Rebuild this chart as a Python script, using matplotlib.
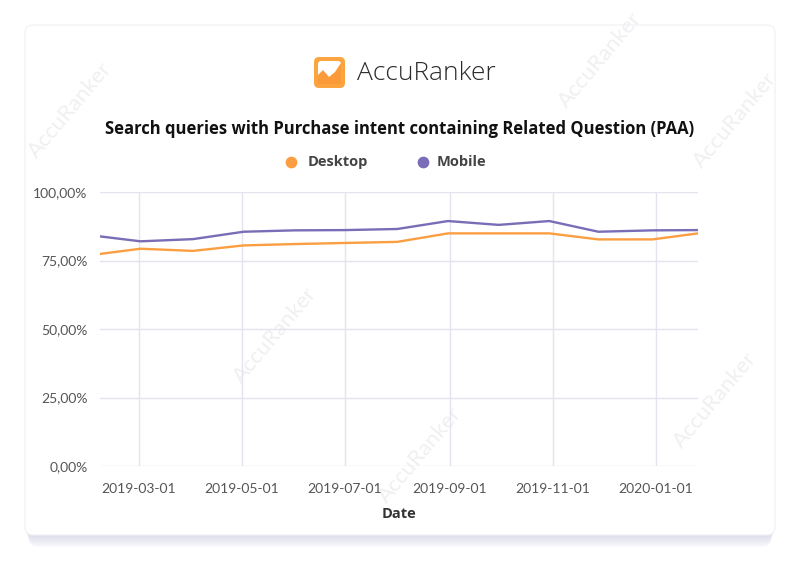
import numpy as np
import pandas as pd
import matplotlib
matplotlib.use('Agg')
import matplotlib.pyplot as plt
import matplotlib.dates as mdates
from matplotlib.patches import FancyBboxPatch, Polygon
from matplotlib.ticker import FuncFormatter

# data
dates = pd.to_datetime(['2019-02-06', '2019-03-02', '2019-04-02', '2019-05-02', '2019-06-01',
                        '2019-07-01', '2019-08-01', '2019-08-31', '2019-09-30', '2019-10-30',
                        '2019-11-28', '2019-12-30', '2020-01-26'])
desktop = [77.4, 79.3, 78.5, 80.5, 81.0, 81.4, 81.8, 84.9, 84.9, 84.9, 82.7, 82.7, 84.9]
mobile = [83.8, 82.0, 82.8, 85.5, 86.0, 86.1, 86.5, 89.4, 88.0, 89.4, 85.5, 86.0, 86.1]
tick_dates = pd.to_datetime(['2019-03-01', '2019-05-01', '2019-07-01', '2019-09-01',
                             '2019-11-01', '2020-01-01'])
y_ticks = [0, 25, 50, 75, 100]

orange = '#fb9e41'
purple = '#7a6cb6'
grid_c = '#e4e3ee'
text_c = '#555555'

plt.rcParams['font.family'] = ['Lato', 'DejaVu Sans']

fig = plt.figure(figsize=(8, 5.8), dpi=100)
fig.patch.set_facecolor('white')

# card with shadow
bg = fig.add_axes([0, 0, 1, 1], zorder=-10)
bg.set_xlim(0, 800)
bg.set_ylim(580, 0)
bg.axis('off')
for i in range(8):
    bg.add_patch(FancyBboxPatch((25 + i * 0.6, 30 + i * 1.7), 750 - i * 1.2, 505,
                                boxstyle='round,pad=0,rounding_size=8',
                                fc='#bfc2dc', ec='none', alpha=0.09))
bg.add_patch(FancyBboxPatch((25, 25), 750, 510, boxstyle='round,pad=0,rounding_size=8',
                            fc='white', ec='#f0f0f5', lw=0.8))

# faint watermarks inside the card
for wx, wy in [(70, 110), (275, 335), (420, 455), (735, 120), (715, 400), (600, 60)]:
    bg.text(wx, wy, 'AccuRanker', rotation=50, fontsize=16, color='#f0f0f3',
            ha='center', va='center', zorder=2)

# logo
bg.add_patch(FancyBboxPatch((314, 57), 31, 31, boxstyle='round,pad=0,rounding_size=5',
                            fc='#fca43f', ec='none', zorder=3))
bg.add_patch(FancyBboxPatch((318, 61), 23, 23, boxstyle='round,pad=0,rounding_size=3',
                            fc='white', ec='none', zorder=3))
bg.add_patch(Polygon([(318, 84), (318, 75), (323, 70), (329, 77), (335, 72), (341, 63),
                      (341, 84)], closed=True, fc='#fb9a3a', ec='none', zorder=3))
bg.text(357, 73, 'AccuRanker', fontsize=19, color='#2a2a2a', ha='left', va='center',
        family=['Open Sans', 'DejaVu Sans'], fontweight='light', zorder=3)

# title and legend
bg.text(400, 129, 'Search queries with Purchase intent containing Related Question (PAA)',
        fontsize=12, fontweight='bold', color='#111111', ha='center', va='center',
        family=['Open Sans', 'DejaVu Sans'], zorder=3)
bg.scatter([291], [162], s=55, color=orange, zorder=3)
bg.text(308, 162, 'Desktop', fontsize=10.5, fontweight='bold', color='#444444', va='center',
        family=['Open Sans', 'DejaVu Sans'], zorder=3)
bg.scatter([423], [162], s=55, color=purple, zorder=3)
bg.text(437, 162, 'Mobile', fontsize=10.5, fontweight='bold', color='#444444', va='center',
        family=['Open Sans', 'DejaVu Sans'], zorder=3)

ax = fig.add_axes([100 / 800, (580 - 466) / 580, 598 / 800, 274 / 580])
ax.set_facecolor('none')
ax.plot(dates, desktop, color=orange, lw=1.7, zorder=3)
ax.plot(dates, mobile, color=purple, lw=1.7, zorder=3)

ax.set_xlim(dates[0], dates[-1])
ax.set_ylim(0, 100)
ax.set_xticks(tick_dates)
ax.xaxis.set_major_formatter(mdates.DateFormatter('%Y-%m-%d'))
ax.set_yticks(y_ticks)
ax.yaxis.set_major_formatter(FuncFormatter(lambda v, p: ('%.2f%%' % v).replace('.', ',')))
ax.grid(True, color=grid_c, lw=1)
for s in ax.spines.values():
    s.set_visible(False)
ax.tick_params(length=0, labelsize=10, colors=text_c)
ax.tick_params(axis='x', pad=12)
ax.tick_params(axis='y', pad=9)
ax.set_xlabel('Date', fontsize=10.5, fontweight='bold', color='#333333', labelpad=9,
              family=['Open Sans', 'DejaVu Sans'])

fig.savefig('out.png', dpi=100)
